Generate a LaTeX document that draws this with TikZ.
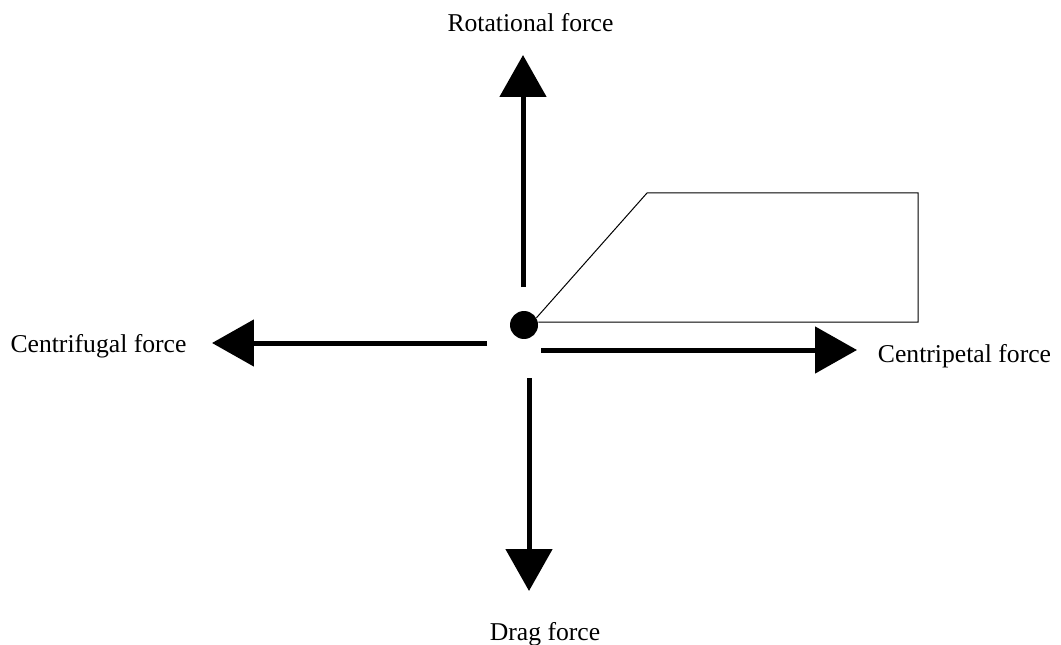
\documentclass[tikz,border=0pt]{standalone}
\usepackage{fontspec}
\setmainfont{Liberation Serif}
\usetikzlibrary{arrows.meta}
\begin{document}
\begin{tikzpicture}[x=0.02cm,y=-0.02cm,
  force/.style={line width=0.1cm,-{Triangle[length=0.84cm,width=0.92cm]}},
  lbl/.style={anchor=base,inner sep=0pt,font=\fontsize{14.6}{17}\selectfont},
  outline/.style={line width=0.02cm}]
\useasboundingbox (0,0) rectangle (1061,645);
\node[circle,fill=black,inner sep=0pt,minimum size=0.56cm] (dot) at (524,325) {};
% arrow start / end coordinates
\coordinate (us) at (523,287);
\coordinate (ut) at (523,55);
\coordinate (ls) at (487,343);
\coordinate (lt) at (212,343);
\coordinate (rs) at (541,350);
\coordinate (rt) at (857,350);
\coordinate (ds) at (529,378);
\coordinate (dt) at (529,591);
\draw[force] (us) -- (ut);
\draw[force] (ls) -- (lt);
\draw[force] (rs) -- (rt);
\draw[force] (ds) -- (dt);
% outline shape
\coordinate (c1) at (647,193);
\coordinate (c2) at (918,193);
\coordinate (c3) at (918,322);
\draw[outline] (dot.30) -- (c1) -- (c2) -- (c3) -- (dot.east |- c3);
% labels
\node[lbl] (rot) at (530.5,32) {Rotational force};
\node[lbl] (cf) at (98.5,352) {Centrifugal force};
\node[lbl] (cp) at (964.5,362) {Centripetal force};
\node[lbl] (drag) at (545,640) {Drag force};
\end{tikzpicture}
\end{document}
